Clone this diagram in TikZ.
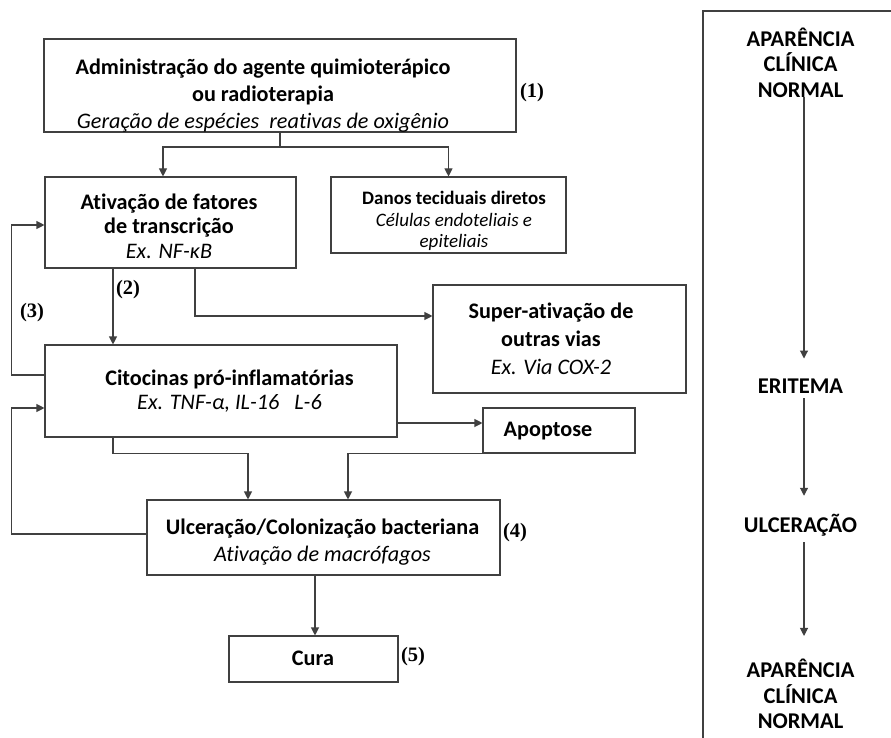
\documentclass[tikz,border=0pt]{standalone}
\usepackage{fontspec}
\setmainfont{Carlito}[Ligatures=NoCommon]
\newfontfamily\labfont{Liberation Serif}
\usetikzlibrary{arrows.meta}
\begin{document}
\begin{tikzpicture}[x=1pt,y=-1pt,
  box/.style={draw=black!75, line width=1.1pt, inner sep=0pt},
  txt/.style={align=center, inner sep=0pt, font=\fontsize{22.2}{27}\selectfont},
  ln/.style={draw=black!75, line width=1.1pt},
  arr/.style={draw=black!75, line width=1.1pt, -{Triangle[width=8pt,length=8pt]}},
  num/.style={font=\labfont\bfseries\fontsize{20.5}{24}\selectfont, inner sep=0pt},
  rp/.style={font=\bfseries\fontsize{22.5}{25.5}\selectfont, align=center, inner sep=0pt}]
\useasboundingbox (0,0) rectangle (891,738);
\fill[white] (0,0) rectangle (891,738);

% boxes
\node[box, minimum width=472pt, minimum height=93pt] (b1) at (280,85.5) {};
\node[box, minimum width=251pt, minimum height=91pt] (b2) at (170.5,222.5) {};
\node[box, minimum width=235pt, minimum height=76pt] (dn) at (448.5,215) {};
\node[box, minimum width=253pt, minimum height=108pt] (sup) at (559.5,339) {};
\node[box, minimum width=352pt, minimum height=92pt] (b3) at (221,391) {};
\node[box, minimum width=152pt, minimum height=45pt] (apo) at (559,430.5) {};
\node[box, minimum width=353pt, minimum height=75pt] (ulc) at (323.5,537.5) {};
\node[box, minimum width=169pt, minimum height=46pt] (cura) at (313.5,659) {};

% texts
\node[txt, font=\fontsize{22.2}{27}\selectfont] (t1) at (263,95.5) {\textbf{Administração do agente quimioterápico}\\\textbf{ou radioterapia}\\\textit{Geração de espécies\ \ reativas de oxigênio}};
\node[txt, font=\fontsize{22.2}{24.5}\selectfont] (t2) at (169,226) {\textbf{Ativação de fatores}\\\textbf{de transcrição}\\\textit{Ex. NF-κB}};
\node[txt, font=\fontsize{19}{21.5}\selectfont] (t3) at (454,221) {\textbf{Danos teciduais diretos}\\\textit{Células endoteliais e}\\\textit{epiteliais}};
\node[txt, font=\fontsize{22.2}{28}\selectfont] (t4) at (551,338.5) {\textbf{Super-ativação de}\\\textbf{outras vias}\\\textit{Ex. Via COX-2}};
\node[txt, font=\fontsize{22.2}{24}\selectfont] (t5) at (229.5,391) {\textbf{Citocinas pró-inflamatórias}\\\textit{Ex. TNF-α, IL-16\ \ \ L-6}};
\node[txt] (t6) at (548,431) {\textbf{Apoptose}};
\node[txt, font=\fontsize{22.2}{27}\selectfont] (t7) at (322.5,542.5) {\textbf{Ulceração/Colonização bacteriana}\\\textit{Ativação de macrófagos}};
\node[txt] (t8) at (313,658) {\textbf{Cura}};

% step labels
\node[num] (n1) at (532,93) {(1)};
\node[num] (n2) at (128,290) {(2)};
\node[num] (n3) at (32,313) {(3)};
\node[num] (n4) at (515,533) {(4)};
\node[num] (n5) at (413,657) {(5)};

% connectors
\coordinate (split) at (280,147);
\draw[ln] (b1.south) -- (split);
\draw[arr] (split) -| ([xshift=-7.5pt]b2.north);
\draw[arr] (split) -| (dn.north);
\draw[arr] ([xshift=-57.5pt]b2.south) -- ([xshift=-57.5pt]b2.south |- b3.north);
\draw[arr] ([xshift=24.5pt]b2.south) |- ([yshift=23pt]sup.west);
\draw[arr] ([yshift=16pt]b3.west) -- ++(-33,0) |- ([yshift=-2.5pt]b2.west);
\draw[arr] ([yshift=3.5pt]ulc.west) -- ++(-135,0) |- ([yshift=-17pt]b3.west);
\draw[arr] ([yshift=-32pt]b3.east) -- ([yshift=-32pt]b3.east -| apo.west);
\draw[arr] ([xshift=-108pt]b3.south) -- ++(0,16) -| ([xshift=-75.5pt]ulc.north);
\draw[arr] (apo.south west) -| ([xshift=24.5pt]ulc.north);
\draw[arr] ([xshift=-8.5pt]ulc.south) -- ([xshift=-8.5pt]ulc.south |- cura.north);

% right panel
\draw[ln] (703,738) -- (703,11) -- (891,11);
\node[rp] (r1) at (800.5,62.5) {APARÊNCIA\\CLÍNICA\\NORMAL};
\node[rp] (r2) at (800.5,386) {ERITEMA};
\node[rp] (r3) at (800.5,525) {ULCERAÇÃO};
\node[rp] (r4) at (800.5,694) {APARÊNCIA\\CLÍNICA\\NORMAL};
\draw[arr] ([xshift=3.5pt,yshift=1pt]r1.south) -- ([xshift=3.5pt,yshift=20pt]r2.north);
\draw[arr] ([xshift=3.5pt,yshift=-5pt]r2.south) -- ([xshift=3.5pt,yshift=18pt]r3.north);
\draw[arr] ([xshift=3.5pt,yshift=-6pt]r3.south) -- ([xshift=3.5pt,yshift=23pt]r4.north);
\end{tikzpicture}
\end{document}
